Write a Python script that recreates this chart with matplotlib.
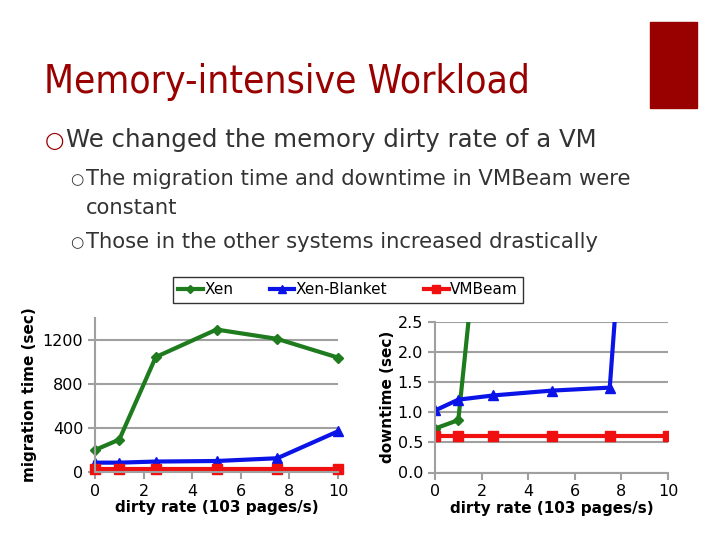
import matplotlib
matplotlib.use("Agg")
import matplotlib.pyplot as plt
from matplotlib.patches import Rectangle
from matplotlib.lines import Line2D

# Data
dirty_rate = [0, 1, 2.5, 5, 7.5, 10]
series_names = ["Xen", "Xen-Blanket", "VMBeam"]
mig_xen = [200, 295, 1045, 1295, 1210, 1040]
mig_blanket = [85, 85, 95, 100, 125, 370]
mig_vmbeam = [25, 25, 25, 25, 25, 25]
down_xen = [0.73, 0.87, 6.5, 9.0, 10.0, 11.0]
down_blanket = [1.03, 1.21, 1.28, 1.36, 1.41, 14.5]
down_vmbeam = [0.60, 0.60, 0.60, 0.60, 0.60, 0.60]
mig_ticks = [0, 400, 800, 1200]
down_ticks = [0.0, 0.5, 1.0, 1.5, 2.0, 2.5]
x_ticks = [0, 2, 4, 6, 8, 10]

W, H = 720, 540
fig = plt.figure(figsize=(7.2, 5.4), dpi=100)
fig.patch.set_facecolor("white")

def fx(px):
    return px / W

def fy(py):
    return 1 - py / H

red = "#990000"
fig.text(fx(44), fy(82), "Memory-intensive Workload", color=red, fontsize=27.9,
         family="DejaVu Sans", fontstretch="condensed", va="center", ha="left")
fig.patches.append(Rectangle((fx(650), fy(108)), fx(697) - fx(650), fy(22) - fy(108),
                             transform=fig.transFigure, color=red, zorder=0))

body = "#333333"
fig.text(fx(45), fy(141), "○", color=red, fontsize=16, fontweight="bold",
         va="center", ha="left")
fig.text(fx(66), fy(140), "We changed the memory dirty rate of a VM", color=body,
         fontsize=17.6, va="center", ha="left")
fig.text(fx(70), fy(180), "○", color=body, fontsize=11, va="center", ha="left")
fig.text(fx(86), fy(179), "The migration time and downtime in VMBeam were", color=body,
         fontsize=15.2, va="center", ha="left")
fig.text(fx(86), fy(208), "constant", color=body,
         fontsize=15.2, va="center", ha="left")
fig.text(fx(70), fy(243), "○", color=body, fontsize=11, va="center", ha="left")
fig.text(fx(86), fy(242), "Those in the other systems increased drastically", color=body,
         fontsize=15.2, va="center", ha="left")

colors = ["#1E7B1E", "#0A14E6", "#F01010"]
markers = ["D", "^", "s"]
msizes = [5.5, 6.5, 7]
grid_c = "#A0A0A0"

def style(ax, ylim, yticks, yfmt):
    ax.set_xlim(0, 10)
    ax.set_ylim(*ylim)
    ax.set_xticks(x_ticks)
    ax.set_yticks(yticks)
    ax.set_yticklabels([yfmt(v) for v in yticks])
    ax.grid(axis="y", color=grid_c, linewidth=1.5)
    ax.set_axisbelow(True)
    for s in ["top", "right"]:
        ax.spines[s].set_visible(False)
    for s in ["left", "bottom"]:
        ax.spines[s].set_color(grid_c)
        ax.spines[s].set_linewidth(1.5)
    ax.tick_params(axis="both", colors=grid_c, length=5, width=1.5, labelsize=11.5,
                   labelcolor="black")
    ax.set_xlabel("dirty rate (103 pages/s)", fontsize=11, fontweight="bold", labelpad=1)

ax1 = fig.add_axes([fx(95), fy(472), fx(338) - fx(95), fy(318) - fy(472)])
for ys, c, m, ms in zip([mig_xen, mig_blanket, mig_vmbeam], colors, markers, msizes):
    ax1.plot(dirty_rate, ys, color=c, marker=m, markersize=ms, linewidth=3, clip_on=False)
style(ax1, (0, 1400), mig_ticks, lambda v: f"{v:d}")
ax1.set_ylabel("migration time (sec)", fontsize=11, fontweight="bold", labelpad=4)

ax2 = fig.add_axes([fx(435), fy(472.5), fx(668) - fx(435), fy(322) - fy(472.5)])
for ys, c, m, ms in zip([down_xen, down_blanket, down_vmbeam], colors, markers, msizes):
    ax2.plot(dirty_rate, ys, color=c, marker=m, markersize=ms, linewidth=3)
style(ax2, (0, 2.5), down_ticks, lambda v: f"{v:.1f}")
ax2.set_ylabel("downtime (sec)", fontsize=11, fontweight="bold", labelpad=2)

handles = [Line2D([], [], color=c, marker=m, markersize=ms - 1, linewidth=3)
           for c, m, ms in zip(colors, markers, msizes)]
leg = fig.legend(handles, series_names, loc="center",
                 bbox_to_anchor=(fx(348), fy(290)), ncol=3, frameon=True,
                 fancybox=False, edgecolor="black", fontsize=11, handlelength=1.6,
                 handletextpad=0.1, columnspacing=2.4, borderpad=0.35)
leg.get_frame().set_linewidth(1)

fig.savefig("out.png", dpi=100, facecolor="white")
